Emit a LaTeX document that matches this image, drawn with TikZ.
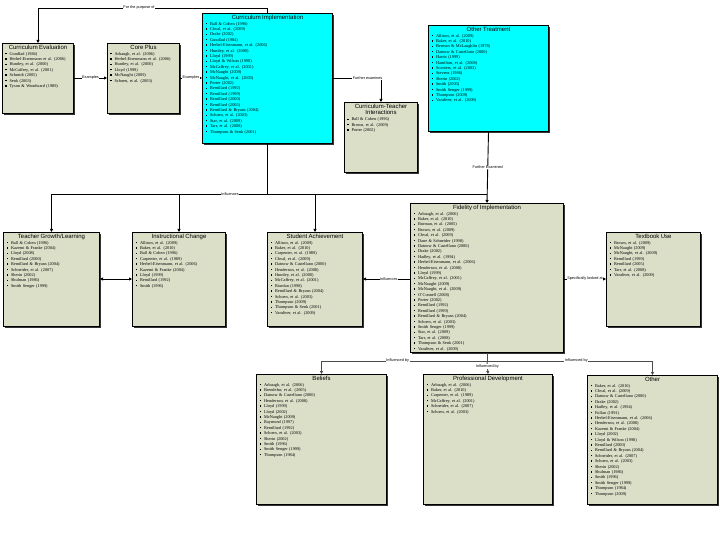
\documentclass[tikz,border=0pt]{standalone}
\usepackage{fontspec}
\setmainfont{Liberation Serif}
\setsansfont{Liberation Sans}
\usetikzlibrary{arrows.meta,shadows}
\definecolor{khaki}{HTML}{DCDFC8}
\definecolor{cyanbox}{HTML}{00FFFF}
\newcommand\bi{\par\noindent\hspace{0.3pt}\rule[0.9pt]{1.3pt}{1.3pt}\hspace{3pt}}
\newcommand\ttl[1]{{\centering\sffamily\fontsize{6}{6.8}\selectfont #1\par}\vspace{0.6pt}}
\tikzset{
 box/.style={draw=black, line width=1pt, fill=khaki, anchor=north west, inner sep=0pt,
   drop shadow={shadow xshift=1.2pt, shadow yshift=-1.2pt, fill=black!80, opacity=1}},
 cbox/.style={box, fill=cyanbox},
 txt/.style={anchor=north, inner sep=0pt, align=left, font=\fontsize{4.3}{5.4}\selectfont},
 conn/.style={draw=black, line width=0.9pt},
 arr/.style={conn, -{Triangle[length=3pt,width=3pt]}},
 darr/.style={conn, {Triangle[length=3pt,width=3pt]}-{Triangle[length=3pt,width=3pt]}},
 lbl/.style={fill=white, inner sep=0.6pt, font=\sffamily\fontsize{3.8}{4.2}\selectfont},
}
\begin{document}
\begin{tikzpicture}[x=1pt,y=-1pt]
\useasboundingbox[fill=white] (0,0) rectangle (720,540);
% boxes
\node[box, minimum width=71pt, minimum height=70pt] (ce) at (2,43) {};
\node[box, minimum width=72pt, minimum height=70pt] (cp) at (107,43) {};
\node[cbox, minimum width=130pt, minimum height=130pt] (ci) at (202,13) {};
\node[box, minimum width=73pt, minimum height=70pt] (cti) at (344,102) {};
\node[cbox, minimum width=120pt, minimum height=106pt] (ot) at (428,25) {};
\node[box, minimum width=96pt, minimum height=94pt] (tg) at (3,232) {};
\node[box, minimum width=93pt, minimum height=94pt] (ic) at (132,232) {};
\node[box, minimum width=95pt, minimum height=94pt] (sa) at (267,232) {};
\node[box, minimum width=153pt, minimum height=149pt] (fi) at (410,203) {};
\node[box, minimum width=94pt, minimum height=94pt] (tu) at (606,232) {};
\node[box, minimum width=130pt, minimum height=130pt] (be) at (256,374) {};
\node[box, minimum width=129pt, minimum height=130pt] (pd) at (423,374) {};
\node[box, minimum width=130pt, minimum height=129pt] (oo) at (587,375) {};
% texts
\node[txt, text width=66pt] (ce-t) at ([yshift=-1.5pt]ce.north) {\ttl{Curriculum Evaluation}%
\bi Goodlad (1984)\bi Herbel-Eisenmann et al. (2006)\bi Huntley, et al. (2000)\bi McCaffrey, et al. (2001)\bi Schmidt (2005)\bi Senk (2003)\bi Tyson \& Woodward (1989)};
\node[txt, text width=67pt] (cp-t) at ([yshift=-1.5pt]cp.north) {\ttl{Core Plus}%
\bi Arbaugh, et al. (2006)\bi Herbel-Eisenmann et al. (2006)\bi Huntley, et al. (2000)\bi Lloyd (1999)\bi McNaught (2009)\bi Schoen, et al. (2003)};
\node[txt, text width=124pt] (ci-t) at ([yshift=-1.5pt]ci.north) {\ttl{Curriculum Implementation}%
\bi Ball \& Cohen (1996)\bi Chval, et al. (2009)\bi Drake (2002)\bi Goodlad (1984)\bi Herbel-Eisenmann, et al. (2006)\bi Huntley, et al. (2000)\bi Lloyd (1999)\bi Lloyd \& Wilson (1998)\bi McCaffrey, et al. (2001)\bi McNaught (2009)\bi McNaught, et al. (2009)\bi Porter (2002)\bi Remillard (1992)\bi Remillard (1999)\bi Remillard (2000)\bi Remillard (2005)\bi Remillard \& Bryans (2004)\bi Schoen, et al. (2003)\bi Star, et al. (2009)\bi Tarr, et al. (2008)\bi Thompson \& Senk (2001)};
\node[txt, text width=68pt] (cti-t) at ([yshift=-1.5pt]cti.north) {\ttl{Curriculum-Teacher\\Interactions}%
\bi Ball \& Cohen (1996)\bi Brown, et al. (2009)\bi Porter (2002)};
\node[txt, text width=114pt] (ot-t) at ([yshift=-1.5pt]ot.north) {\ttl{Other Treatment}%
\bi Allison, et al. (2009)\bi Baker, et al. (2010)\bi Berman \& McLaughlin (1978)\bi Datnow \& Castellano (2000)\bi Harris (1999)\bi Hamilton, et al. (2008)\bi Sconiers, et al. (2003)\bi Stevens (1986)\bi Sherin (2002)\bi Smith (2000)\bi Smith Senger (1999)\bi Thompson (2009)\bi Vandiver, et al. (2009)};
\node[txt, text width=90pt] (tg-t) at ([yshift=-1.5pt]tg.north) {\ttl{Teacher Growth/Learning}%
\bi Ball \& Cohen (1996)\bi Kazemi \& Franke (2004)\bi Lloyd (2008)\bi Remillard (2000)\bi Remillard \& Bryans (2004)\bi Schneider, et al. (2007)\bi Sherin (2002)\bi Shulman (1986)\bi Smith Senger (1999)};
\node[txt, text width=87pt] (ic-t) at ([yshift=-1.5pt]ic.north) {\ttl{Instructional Change}%
\bi Allison, et al. (2009)\bi Baker, et al. (2010)\bi Ball \& Cohen (1996)\bi Carpenter, et al. (1989)\bi Herbel-Eisenmann, et al. (2006)\bi Kazemi \& Franke (2004)\bi Lloyd (1999)\bi Remillard (1992)\bi Smith (1996)};
\node[txt, text width=89pt] (sa-t) at ([yshift=-1.5pt]sa.north) {\ttl{Student Achievement}%
\bi Allison, et al. (2009)\bi Baker, et al. (2010)\bi Carpenter, et al. (1989)\bi Chval, et al. (2009)\bi Datnow \& Castellano (2000)\bi Henderson, et al. (2008)\bi Huntley, et al. (2000)\bi McCaffrey, et al. (2001)\bi Riordan (1998)\bi Remillard \& Bryans (2004)\bi Schoen, et al. (2003)\bi Thompson (2009)\bi Thompson \& Senk (2001)\bi Vandiver, et al. (2009)};
\node[txt, text width=147pt] (fi-t) at ([yshift=-1.5pt]fi.north) {\ttl{Fidelity of Implementation}%
\bi Arbaugh, et al. (2006)\bi Baker, et al. (2010)\bi Borman, et al. (2005)\bi Brown, et al. (2009)\bi Chval, et al. (2009)\bi Dane \& Schneider (1998)\bi Datnow \& Castellano (2000)\bi Drake (2002)\bi Hadley, et al. (1994)\bi Herbel-Eisenmann, et al. (2006)\bi Henderson, et al. (2008)\bi Lloyd (1999)\bi McCaffrey, et al. (2001)\bi McNaught (2009)\bi McNaught, et al. (2009)\bi O'Connell (2008)\bi Porter (2002)\bi Remillard (1992)\bi Remillard (1999)\bi Remillard \& Bryans (2004)\bi Schoen, et al. (2003)\bi Smith Senger (1999)\bi Star, et al. (2009)\bi Tarr, et al. (2008)\bi Thompson \& Senk (2001)\bi Vandiver, et al. (2009)};
\node[txt, text width=88pt] (tu-t) at ([yshift=-1.5pt]tu.north) {\ttl{Textbook Use}%
\bi Brown, et al. (2009)\bi McNaught (2009)\bi McNaught, et al. (2009)\bi Remillard (1999)\bi Remillard (2005)\bi Tarr, et al. (2008)\bi Vandiver, et al. (2009)};
\node[txt, text width=124pt] (be-t) at ([yshift=-1.5pt]be.north) {\ttl{Beliefs}%
\bi Arbaugh, et al. (2006)\bi Brendefur, et al. (2005)\bi Datnow \& Castellano (2000)\bi Henderson, et al. (2008)\bi Lloyd (1999)\bi Lloyd (2002)\bi McNaught (2009)\bi Raymond (1997)\bi Remillard (1992)\bi Schoen, et al. (2003)\bi Sherin (2002)\bi Smith (1996)\bi Smith Senger (1999)\bi Thompson (1984)};
\node[txt, text width=123pt] (pd-t) at ([yshift=-1.5pt]pd.north) {\ttl{Professional Development}%
\bi Arbaugh, et al. (2006)\bi Baker, et al. (2010)\bi Carpenter, et al. (1989)\bi McCaffrey, et al. (2001)\bi Schneider, et al. (2007)\bi Schoen, et al. (2003)};
\node[txt, text width=124pt] (oo-t) at ([yshift=-1.5pt]oo.north) {\ttl{Other}%
\bi Baker, et al. (2010)\bi Chval, et al. (2009)\bi Datnow \& Castellano (2000)\bi Drake (2002)\bi Hadley, et al. (1994)\bi Fullan (1991)\bi Herbel-Eisenmann, et al. (2006)\bi Henderson, et al. (2008)\bi Kazemi \& Franke (2004)\bi Lloyd (2002)\bi Lloyd \& Wilson (1998)\bi Remillard (2000)\bi Remillard \& Bryans (2004)\bi Schneider, et al. (2007)\bi Schoen, et al. (2003)\bi Sherin (2002)\bi Shulman (1986)\bi Smith (1996)\bi Smith Senger (1999)\bi Thompson (1984)\bi Thompson (2009)};
% junction coordinates
\coordinate (jt) at (ci.north |- 0,8);
\coordinate (j1) at (ci.south |- 0,194);
\coordinate (j2) at (fi.south |- 0,361);
% connectors
\draw[arr] (ci.north) -- (jt) -| node[lbl, pos=0.28] {For the purpose of} (ce.north);
\draw[arr] (ce.east |- 0,78) -- node[lbl] {Examples} (cp.west |- 0,78);
\draw[arr] (cp.east |- 0,78) -- node[lbl] {Examples} (ci.west |- 0,78);
\draw[arr] (ci.east |- 0,78) -| node[lbl, pos=0.36] {Further examines} (cti.north);
\draw[arr] (ot.south) -- node[lbl, pos=0.5] {Further Examined} (fi.north);
\draw[conn] (ci.south) -- (j1);
\draw[conn] (tg.north |- j1) -- node[lbl, pos=0.41] {Influences} (fi.north |- j1);
\draw[arr] (tg.north |- j1) -- (tg.north);
\draw[arr] (ic.north |- j1) -- (ic.north);
\draw[arr] (sa.north |- j1) -- (sa.north);
\draw[darr] (tg.east |- 0,279) -- (ic.west |- 0,279);
\draw[arr] (fi.west |- 0,279) -- node[lbl, pos=0.45] {Influences} (sa.east |- 0,279);
\draw[arr] (fi.east |- 0,279) -- node[lbl, pos=0.5] {Specifically looked at} (tu.west |- 0,279);
\draw[conn, draw=black!70] (fi.south) -- (j2);
\draw[conn, draw=black!70] (be.north |- j2) -- node[lbl, pos=0.46] {Influenced by} (j2);
\draw[conn, draw=black!70] (j2) -- node[lbl, pos=0.54] {Influenced by} (oo.north |- j2);
\draw[arr, draw=black!70] (be.north |- j2) -- (be.north);
\draw[arr, draw=black!70] (j2) -- node[lbl, pos=0.45] {Influenced by} (pd.north);
\draw[arr, draw=black!70] (oo.north |- j2) -- (oo.north);
\end{tikzpicture}
\end{document}
